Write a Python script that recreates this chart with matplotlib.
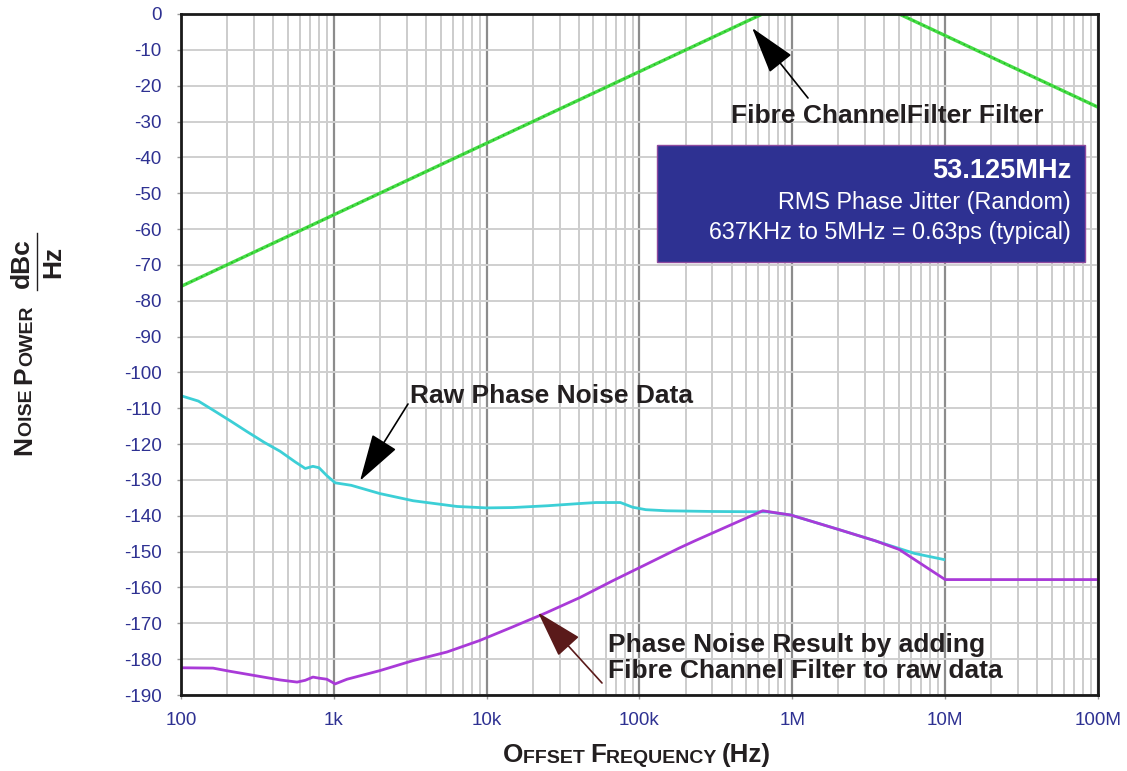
import numpy as np
import matplotlib.pyplot as plt
from matplotlib.ticker import FixedLocator, LogLocator, NullFormatter
from matplotlib.patches import Rectangle

plt.rcParams['font.family'] = ['Liberation Sans', 'DejaVu Sans']

# Fibre Channel filter response
filter_freq = [100, 637e3, 5e6, 100e6]
filter_db = [-76, 0, 0, -26]

# raw phase noise data
raw_freq = [100, 130, 162, 210, 270, 350, 445, 560, 650, 730, 800, 900, 1020,
            1300, 2000, 3300, 6400, 10000, 14800, 25000, 40000, 52000, 75000,
            90000, 110000, 150000, 300000, 690000, 980000, 2.0e6, 3.5e6,
            6.3e6, 9.8e6]
raw_db = [-106.5, -108, -110.5, -113.5, -116.5, -119.5, -122, -125, -126.8,
          -126.2, -126.6, -128.8, -130.8, -131.5, -133.8, -135.8, -137.4,
          -137.8, -137.7, -137.2, -136.6, -136.3, -136.3, -137.6, -138.3,
          -138.6, -138.8, -138.9, -139.8, -143.8, -147.0, -150.5, -152.2]

# filtered result
res_freq = [100, 162, 210, 270, 445, 575, 650, 730, 800, 900, 1020, 1220,
            2000, 3300, 5500, 9000, 14800, 24700, 40800, 67000, 110000,
            182000, 230000, 640000, 980000, 2.0e6, 3.5e6, 5.0e6, 10e6, 100e6]
res_db = [-182.4, -182.5, -183.4, -184.2, -185.8, -186.4, -185.9, -185.0,
          -185.3, -185.6, -186.9, -185.6, -183.2, -180.4, -178.0, -174.8,
          -171.0, -167.0, -162.8, -158.1, -153.6, -149.0, -147.0, -138.6,
          -139.8, -143.8, -147.0, -149.4, -157.8, -157.8]

x_ticks = [100, 1e3, 1e4, 1e5, 1e6, 1e7, 1e8]
x_labels = ['100', '1k', '10k', '100k', '1M', '10M', '100M']
y_ticks = list(range(0, -191, -10))

W, H = 1127, 771
BLUE = '#2e3192'
DARK = '#231f20'


def fx(px):
    return px / W


def fy(py):
    return 1 - py / H


fig = plt.figure(figsize=(W / 100, H / 100), dpi=100)
ax = fig.add_axes([fx(181), fy(695), fx(1098) - fx(181), fy(14) - fy(695)])
ax.set_xscale('log')
ax.set_xlim(100, 1e8)
ax.set_ylim(-190, 0)

ax.xaxis.set_major_locator(FixedLocator(x_ticks))
ax.set_xticklabels(x_labels)
ax.xaxis.set_minor_locator(LogLocator(base=10, subs=np.arange(2, 10)))
ax.xaxis.set_minor_formatter(NullFormatter())
ax.set_yticks(y_ticks)
ax.set_yticklabels([str(v) for v in y_ticks])

ax.tick_params(axis='both', which='major', labelsize=13.6, labelcolor=BLUE,
               length=3, width=1, color='#999999')
ax.tick_params(axis='x', which='major', pad=9)
ax.tick_params(axis='y', which='major', pad=11)
ax.tick_params(axis='x', which='minor', length=0)

ax.grid(True, which='major', axis='x', color='#8c8c8c', lw=1.6)
ax.grid(True, which='minor', axis='x', color='#c4c4c4', lw=1.2)
ax.grid(True, which='major', axis='y', color='#cfcfcf', lw=1.4)
ax.set_axisbelow(True)
for s in ax.spines.values():
    s.set_linewidth(2)
    s.set_color('#1a1a1a')

ax.plot(filter_freq, filter_db, color='#44dc44', lw=2.4)
ax.plot(filter_freq, filter_db, color='#1faa1f', lw=1, ls=(0, (1, 3)))
ax.plot(raw_freq, raw_db, color='#3ccfd6', lw=2)
ax.plot(res_freq, res_db, color='#a93ad8', lw=2)

# annotations
bold = dict(fontsize=19, fontweight='bold', color=DARK)
head = '-|>,head_length=1.5,head_width=0.45'
fig.text(fx(731), fy(116), 'Fibre ChannelFilter Filter', ha='left',
         va='center', **bold)
ax.annotate('', xy=(546e3, -3.9), xycoords='data',
            xytext=(fx(808), fy(98)), textcoords='figure fraction',
            arrowprops=dict(arrowstyle=head, color='black', lw=1.2,
                            mutation_scale=20, shrinkA=0, shrinkB=0))

fig.text(fx(410), fy(396), 'Raw Phase Noise Data', ha='left', va='center',
         **bold)
ax.annotate('', xy=(1485, -130.2), xycoords='data',
            xytext=(fx(408), fy(404)), textcoords='figure fraction',
            arrowprops=dict(arrowstyle=head, color='black', lw=1.2,
                            mutation_scale=20, shrinkA=0, shrinkB=0))

fig.text(fx(608), fy(658), 'Phase Noise Result by adding\n'
         'Fibre Channel Filter to raw data', ha='left', va='center',
         linespacing=1.08, **bold)
ax.annotate('', xy=(21700, -167), xycoords='data',
            xytext=(fx(602), fy(683)), textcoords='figure fraction',
            arrowprops=dict(arrowstyle=head, color='#5a1a1a', lw=1.2,
                            mutation_scale=20, shrinkA=0, shrinkB=0))

# jitter box
fig.patches.append(Rectangle((fx(657), fy(262)), fx(1085) - fx(657),
                             fy(145) - fy(262), transform=fig.transFigure,
                             facecolor=BLUE, edgecolor='#8e4a9e', lw=1,
                             zorder=5))
fig.text(fx(1071), fy(171), '53.125MHz', ha='right', va='center',
         fontsize=19.5, fontweight='bold', color='white', zorder=6)
fig.text(fx(1071), fy(202), 'RMS Phase Jitter (Random)', ha='right',
         va='center', fontsize=16.8, color='white', zorder=6)
fig.text(fx(1071), fy(232), '637KHz to 5MHz = 0.63ps (typical)', ha='right',
         va='center', fontsize=16.8, color='white', zorder=6)


# small caps labels
def small_caps(parts, x0, y0, rotation=0):
    prev = None
    for txt, size in parts:
        kw = dict(fontsize=size, fontweight='bold', color=DARK,
                  rotation=rotation, annotation_clip=False)
        if prev is None:
            if rotation:
                prev = ax.annotate(txt, xy=(x0, y0), xycoords='figure fraction',
                                   ha='right', va='bottom', **kw)
            else:
                prev = ax.annotate(txt, xy=(x0, y0), xycoords='figure fraction',
                                   ha='left', va='bottom', **kw)
        else:
            if rotation:
                prev = ax.annotate(txt, xy=(1, 1), xycoords=prev,
                                   ha='right', va='bottom', **kw)
            else:
                prev = ax.annotate(txt, xy=(1, 0), xycoords=prev,
                                   ha='left', va='bottom', **kw)
    return prev


small_caps([('O', 18.7), ('FFSET ', 14), ('F', 18.7), ('REQUENCY ', 14),
            ('(Hz)', 18.7)], fx(503), fy(767))
small_caps([('N', 19), ('OISE ', 14), ('P', 19), ('OWER', 14)],
           fx(36), fy(455), rotation=90)

fig.text(fx(22), fy(263), 'dBc', rotation=90, ha='center', va='center',
         fontsize=19, fontweight='bold', color=DARK)
fig.text(fx(53), fy(262), 'Hz', rotation=90, ha='center', va='center',
         fontsize=19, fontweight='bold', color=DARK)
fig.add_artist(plt.Line2D([fx(36.5), fx(36.5)], [fy(290), fy(233)],
                          color=DARK, lw=1))

fig.savefig('out.png', dpi=100)
